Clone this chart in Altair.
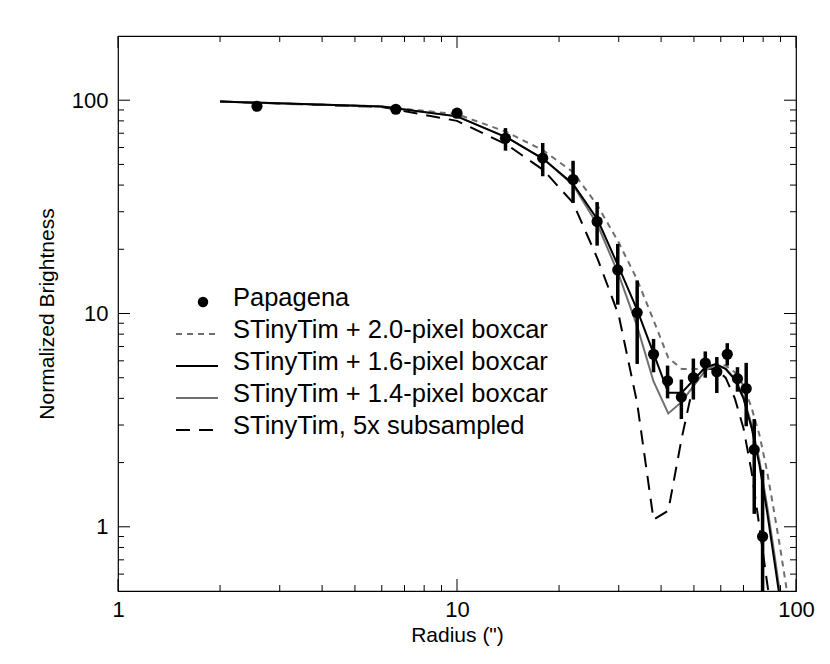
import altair as alt
import pandas as pd

# ---------------- data ----------------
radius = [2.57, 6.6, 10.0, 13.9, 17.9, 22.0, 25.9, 29.8, 34.0, 38.0,
          41.8, 45.9, 49.8, 54.0, 58.4, 62.7, 67.2, 71.3, 75.3, 79.7]
bright = [93.7, 90.7, 86.9, 66.3, 53.5, 42.5, 27.0, 16.0, 10.1, 6.44,
          4.83, 4.06, 5.0, 5.86, 5.33, 6.44, 4.95, 4.45, 2.3, 0.9]
err_lo = [93.7, 90.7, 86.9, 58.0, 44.0, 33.0, 20.8, 11.0, 5.8, 5.3,
          4.0, 3.2, 3.95, 5.0, 4.24, 5.7, 4.3, 2.96, 1.15, 0.3]
err_hi = [93.7, 90.7, 86.9, 74.0, 63.0, 52.0, 33.3, 21.2, 14.3, 7.6,
          5.7, 4.9, 6.15, 6.64, 6.25, 7.26, 5.6, 5.87, 3.2, 1.85]

model_r = [2, 6, 10, 14, 18, 22, 26, 30, 34, 38, 42, 46, 50, 54,
           58, 62, 66, 70, 74, 78, 82, 86, 90, 94, 98]
m20 = [98.5, 93.5, 86.0, 71.0, 58.0, 46.0, 32.0, 21.5, 14.4, 9.3, 6.2, 5.5, 5.5, 5.5,
       5.8, 5.7, 5.3, 4.6, 3.6, 2.7, 1.85, 1.2, 0.78, 0.5, 0.32]
m16 = [98.5, 93.5, 84.0, 67.0, 53.0, 40.5, 27.5, 16.5, 10.4, 6.5, 4.25, 4.25, 4.9, 5.6,
       5.8, 5.5, 4.9, 4.0, 2.9, 1.95, 1.2, 0.72, 0.44, 0.27, 0.17]
m14 = [98.5, 93.5, 84.0, 67.0, 53.0, 40.0, 26.0, 15.2, 8.7, 4.8, 3.4, 3.85, 4.6, 5.4,
       5.75, 5.5, 4.95, 4.05, 3.0, 2.05, 1.28, 0.78, 0.47, 0.29, 0.18]
m5x = [98.5, 93.0, 80.0, 62.0, 47.0, 33.0, 18.0, 9.8, 3.8, 1.08, 1.19, 2.6, 4.8, 5.5,
       5.5, 5.0, 4.0, 2.9, 1.8, 1.0, 0.56, 0.33, 0.2, 0.12, 0.07]

legend_labels = ["Papagena",
                 "STinyTim + 2.0-pixel boxcar",
                 "STinyTim + 1.6-pixel boxcar",
                 "STinyTim + 1.4-pixel boxcar",
                 "STinyTim, 5x subsampled"]

x_major = [1, 10, 100]
x_minor = [2, 3, 4, 5, 6, 7, 8, 9, 20, 30, 40, 50, 60, 70, 80, 90]
y_major = [1, 10, 100]
y_minor = [0.6, 0.7, 0.8, 0.9, 2, 3, 4, 5, 6, 7, 8, 9, 20, 30, 40, 50, 60, 70, 80, 90]

# ---------------- chart ----------------
W, H = 678, 555
FONT = "Liberation Sans"
xs = alt.Scale(type="log", domain=[1, 100], nice=False)
ys = alt.Scale(type="log", domain=[0.5, 200], nice=False)

pts = pd.DataFrame({"r": radius, "b": bright, "lo": err_lo, "hi": err_hi})
bars = pts.iloc[3:]

x_axis = alt.Axis(values=x_major, format="d", ticks=False, domain=False, grid=False,
                  labelFont=FONT, labelFontSize=22, labelPadding=8, labelFlush=False,
                  labelOverlap=False, labelColor="black",
                  title='Radius (")', titleFont=FONT, titleFontSize=21,
                  titleFontWeight="normal", titlePadding=4, titleColor="black")
y_axis = alt.Axis(values=y_major, format="d", ticks=False, domain=False, grid=False,
                  labelFont=FONT, labelFontSize=22, labelPadding=10, labelFlush=False,
                  labelOverlap=False, labelColor="black",
                  title="Normalized Brightness", titleFont=FONT, titleFontSize=21,
                  titleFontWeight="normal", titlePadding=14, titleColor="black")


def X(field):
    return alt.X(field, scale=xs, axis=x_axis)


def Y(field):
    return alt.Y(field, scale=ys, axis=y_axis)


def model_layer(vals, color, dash, width=2.0):
    df = pd.DataFrame({"r": model_r, "v": vals})
    kw = dict(color=color, strokeWidth=width, clip=True)
    if dash:
        kw["strokeDash"] = dash
    return alt.Chart(df).mark_line(**kw).encode(x=X("r:Q"), y=Y("v:Q"), order="r:Q")


layers = []
layers.append(model_layer(m5x, "black", [14, 9], 2.0))
layers.append(model_layer(m20, "#6e6e6e", [6, 5], 2.0))
layers.append(model_layer(m14, "#707070", None, 2.0))
layers.append(model_layer(m16, "black", None, 2.0))

# error bars
layers.append(alt.Chart(bars).mark_rule(color="black", strokeWidth=3.5, clip=True).encode(
    x=X("r:Q"), y=Y("lo:Q"), y2="hi:Q"))
# data points
layers.append(alt.Chart(pts).mark_circle(color="black", size=125, opacity=1, clip=True).encode(
    x=X("r:Q"), y=Y("b:Q")))


# inward ticks on all four sides
def xticks(vals, length):
    df = pd.DataFrame({"r": vals})
    base = alt.Chart(df).mark_rule(color="black", strokeWidth=1)
    bot = base.encode(x=X("r:Q"), y=alt.value(H), y2=alt.value(H - length))
    top = base.encode(x=X("r:Q"), y=alt.value(0), y2=alt.value(length))
    return [bot, top]


def yticks(vals, length):
    df = pd.DataFrame({"v": vals})
    base = alt.Chart(df).mark_rule(color="black", strokeWidth=1)
    left = base.encode(y=Y("v:Q"), x=alt.value(0), x2=alt.value(length))
    right = base.encode(y=Y("v:Q"), x=alt.value(W), x2=alt.value(W - length))
    return [left, right]


layers += xticks(x_major, 12) + xticks(x_minor, 6)
layers += yticks(y_major, 12) + yticks(y_minor, 6)

# legend (manual, drawn inside the plot)
LX_SYM0, LX_SYM1, LX_TEXT, LY0, LDY = 58, 100, 115, 262, 32
styles = [None,
          dict(color="#6e6e6e", strokeDash=[6, 5]),
          dict(color="black"),
          dict(color="#707070"),
          dict(color="black", strokeDash=[14, 9])]
one = pd.DataFrame({"k": [0]})
for i, lab in enumerate(legend_labels):
    yy = LY0 + i * LDY
    layers.append(alt.Chart(one).mark_text(align="left", baseline="middle", font=FONT,
                                           fontSize=25.5, color="black").encode(
        x=alt.value(LX_TEXT), y=alt.value(yy), text=alt.value(lab)))
    if styles[i] is None:
        layers.append(alt.Chart(one).mark_circle(color="black", size=110, opacity=1).encode(
            x=alt.value(85), y=alt.value(yy + 4)))
    else:
        layers.append(alt.Chart(one).mark_rule(strokeWidth=2, **styles[i]).encode(
            x=alt.value(LX_SYM0), x2=alt.value(LX_SYM1), y=alt.value(yy + 4)))

chart = alt.layer(*layers).properties(
    width=W, height=H, autosize="none",
    padding={"left": 110, "top": 28, "right": 26, "bottom": 70},
).configure_view(stroke="black", strokeWidth=1.2)

chart.save("out.html", embed_options={"renderer": "svg", "actions": False})
